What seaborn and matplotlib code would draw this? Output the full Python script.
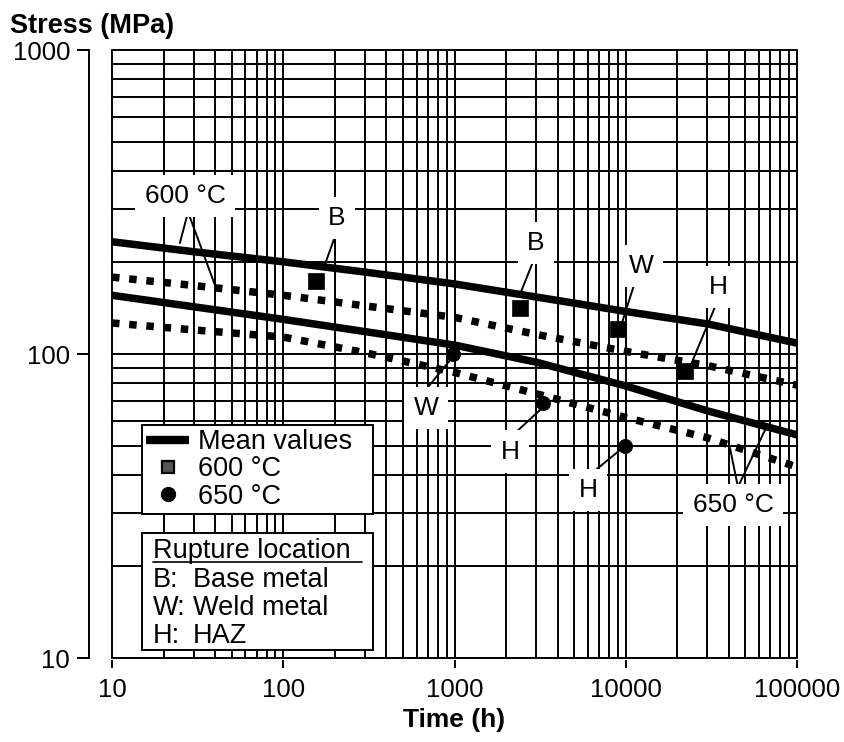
import numpy as np
import pandas as pd
import matplotlib
matplotlib.use("Agg")
import matplotlib.pyplot as plt
from matplotlib.lines import Line2D
from matplotlib.patches import Rectangle
from matplotlib.ticker import LogLocator, NullFormatter, FuncFormatter
import seaborn as sns

# ---- creep rupture curves (time in h, stress in MPa) ----
curve_time = [10, 30, 100, 300, 1000, 3000, 10000, 30000, 100000]
mean_600 = [234, 217, 201, 186, 170, 154, 138, 125.6, 108.6]
band_600 = [179, 168, 156, 144, 132, 116, 102, 91.6, 79]
mean_650 = [156, 143, 130, 118.5, 107, 94, 78.5, 65, 54.2]
band_650 = [126.5, 120, 113.7, 101, 87, 74, 61.8, 53, 42.5]

# ---- welded joint test results ----
pts_600_time = [155, 2413, 9010, 22200]
pts_600_stress = [174, 141.6, 120.8, 87.9]
pts_650_time = [980, 3290, 9900]
pts_650_stress = [100, 69, 49.8]

# ---- callouts: text, position, leader lines (t0, s0, t1, s1) ----
label_text = ["600 °C", "B", "B", "W", "H", "W", "H", "H", "650 °C"]
label_time = [26.7, 206, 2992, 12270, 34600, 682, 2109, 6030, 42300]
label_stress = [331, 280, 231.7, 194.6, 166, 66.4, 47.7, 35.7, 31.8]
leaders = [
    (27.8, 293, 24.9, 231.7),
    (27.8, 293, 39.9, 168.6),
    (200, 242.6, 173, 193.3),
    (2871, 200.8, 2443, 160),
    (11320, 172.6, 9500, 126.5),
    (33200, 142.8, 23700, 90.6),
    (700, 77.8, 942, 95.5),
    (2255, 54.9, 3243, 66.4),
    (6350, 40.6, 9250, 48.3),
    (45200, 36.5, 40600, 49.1),
    (45200, 36.5, 65000, 56.2),
]

legend_labels = ["Mean values", "600 °C", "650 °C"]
location_title = "Rupture location"
location_keys = ["B:", "W:", "H:"]
location_names = ["Base metal", "Weld metal", "HAZ"]

y_ticks = [10, 100, 1000]
x_ticks = [10, 100, 1000, 10000, 100000]

sns.set_theme(style="white")
plt.rcParams["font.family"] = ["Liberation Sans", "DejaVu Sans"]
plt.rcParams.update({"text.color": "black", "axes.labelcolor": "black",
                     "xtick.color": "black", "ytick.color": "black"})

curves = pd.DataFrame({
    "time": curve_time * 4,
    "stress": mean_600 + band_600 + mean_650 + band_650,
    "curve": ["m600"] * 9 + ["b600"] * 9 + ["m650"] * 9 + ["b650"] * 9,
})

fig = plt.figure(figsize=(8.44, 7.42), dpi=100)
ax = fig.add_axes([112 / 844, (742 - 658) / 742, 685 / 844, 608 / 742])
ax.set_xscale("log")
ax.set_yscale("log")
ax.set_xlim(10, 1e5)
ax.set_ylim(10, 1000)

# full logarithmic grid
for axis in (ax.xaxis, ax.yaxis):
    axis.set_major_locator(LogLocator(base=10))
    axis.set_minor_locator(LogLocator(base=10, subs=np.arange(2, 10)))
    axis.set_minor_formatter(NullFormatter())
    axis.set_major_formatter(FuncFormatter(lambda v, p: f"{v:g}"))
ax.set_axisbelow(True)
ax.grid(True, which="both", color="black", lw=1.4, clip_on=False)

# curves
for name in ["m600", "m650"]:
    sns.lineplot(data=curves[curves["curve"] == name], x="time", y="stress",
                 color="black", lw=5.4, ax=ax, solid_capstyle="butt",
                 solid_joinstyle="round", zorder=3)
for name in ["b600", "b650"]:
    sns.lineplot(data=curves[curves["curve"] == name], x="time", y="stress",
                 color="black", lw=5.4, ax=ax, linestyle=(0, (1, 1.3)), zorder=3)

# test points
sns.scatterplot(x=pts_600_time, y=pts_600_stress, marker="s", s=135,
                color="black", edgecolor="black", linewidth=0.5, ax=ax, zorder=4)
sns.scatterplot(x=pts_650_time, y=pts_650_stress, marker="o", s=105,
                color="black", edgecolor="black", linewidth=0.5, ax=ax, zorder=4)

# callouts
for t0, s0, t1, s1 in leaders:
    ax.annotate("", xy=(t1, s1), xytext=(t0, s0),
                arrowprops=dict(arrowstyle="-", color="black", lw=1.4,
                                shrinkA=0, shrinkB=0), zorder=5)
for txt, t, s in zip(label_text, label_time, label_stress):
    ax.text(t, s, txt, ha="center", va="center", fontsize=19, zorder=6,
            color="black",
            bbox=dict(boxstyle="square,pad=0.35", fc="white", ec="none"))

# axes styling
for side in ("top", "right"):
    ax.spines[side].set_visible(False)
ax.spines["bottom"].set_visible(False)
ax.spines["bottom"].set_position(("outward", 1.5))
ax.spines["left"].set_position(("outward", 16.5))
ax.spines["left"].set_color("black")
ax.spines["left"].set_linewidth(1.4)
ax.tick_params(axis="both", which="minor", length=0)
ax.tick_params(axis="x", which="major", direction="out", length=6, width=1.4,
               pad=7, labelsize=18.5, colors="black", bottom=True)
ax.tick_params(axis="y", which="major", direction="out", length=8.6, width=1.4,
               pad=5, labelsize=18.5, colors="black", left=True)
ax.set_xticks(x_ticks)
ax.set_yticks(y_ticks)
ax.set_xlim(10, 1e5)
ax.set_ylim(10, 1000)
ax.set_xlabel("Time (h)", fontsize=19, fontweight="bold", labelpad=4,
              color="black")
ax.set_ylabel("")
fig.text(10 / 844, (742 - 33) / 742, "Stress (MPa)", fontsize=19.5,
         fontweight="bold", ha="left", va="baseline", color="black")

# symbol legend
handles = [
    Line2D([], [], color="black", lw=6, solid_capstyle="butt"),
    Line2D([], [], ls="none", marker="s", ms=8, mfc="#555555", mec="black", mew=1.6),
    Line2D([], [], ls="none", marker="o", ms=10, color="black"),
]
leg = ax.legend(handles, legend_labels, loc="upper left",
                bbox_to_anchor=(0.0438, 0.2336, 0.3372, 0.1496), mode="expand",
                borderaxespad=0, fontsize=19.5, frameon=True, fancybox=False,
                framealpha=1, edgecolor="black", borderpad=0.15,
                labelspacing=0.05, handlelength=1.6, handletextpad=0.3,
                labelcolor="black")
leg.get_frame().set_linewidth(1.4)
leg.set_zorder(7)

# rupture location key
ax.add_patch(Rectangle((0.0438, 0.01316), 0.3372, 0.1924, transform=ax.transAxes,
                       fc="white", ec="black", lw=1.4, zorder=7, clip_on=False))
ax.text(0.0599, 0.176, location_title, transform=ax.transAxes, fontsize=19.5,
        ha="left", va="center", zorder=8, color="black")
ax.plot([0.0599, 0.365], [0.158, 0.158], transform=ax.transAxes, color="black",
        lw=1.2, zorder=8, clip_on=False)
row_y = [0.128, 0.0822, 0.0362]
for key, name, yy in zip(location_keys, location_names, row_y):
    ax.text(0.0599, yy, key, transform=ax.transAxes, fontsize=19.5,
            ha="left", va="center", zorder=8, color="black")
    ax.text(0.118, yy, name, transform=ax.transAxes, fontsize=19.5,
            ha="left", va="center", zorder=8, color="black")

fig.savefig("out.png", dpi=100)
